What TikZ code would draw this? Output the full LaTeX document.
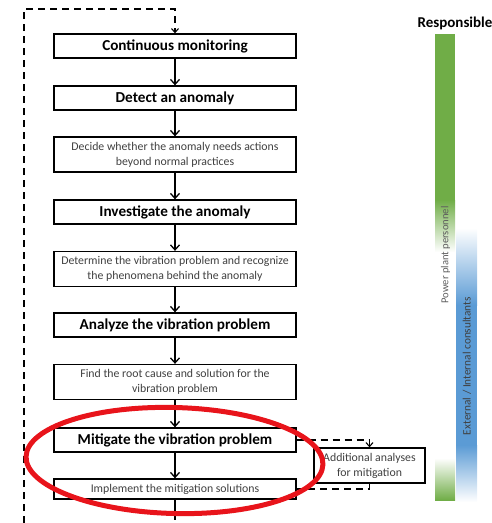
\documentclass[tikz,border=0pt]{standalone}
\usepackage{fontspec}
\setmainfont{Carlito}
\usetikzlibrary{arrows.meta,calc}
\definecolor{plantgreen}{HTML}{70AD47}
\definecolor{consultblue}{HTML}{5B9BD5}
\definecolor{textgray}{HTML}{404040}
\definecolor{markred}{HTML}{E8141B}
\tikzset{
  stepbox/.style={draw=black, line width=1.3pt, fill=white, minimum width=242pt,
    inner sep=1pt, align=center},
  mainstep/.style={stepbox, minimum height=24pt, font=\bfseries\fontsize{15.2}{17}\selectfont},
  substep/.style={stepbox, minimum height=35pt, text=textgray, font=\fontsize{11.8}{15}\selectfont},
  flow/.style={line width=1.3pt, -{Straight Barb[length=5pt,width=9pt,line width=1.3pt]}},
  loopline/.style={line width=1.3pt, dash pattern=on 7pt off 5pt},
  looparrow/.style={loopline, -{Straight Barb[length=4pt,width=7pt,line width=1.1pt]}},
  barlabel/.style={rotate=90}
}
\begin{document}
\begin{tikzpicture}[x=1pt,y=-1pt]
\useasboundingbox (0,0) rectangle (492,523);

% responsibility bars
\fill[plantgreen] (435,34) rectangle (455,200);
\shade[top color=plantgreen, bottom color=white] (435,200) rectangle (455,252);
\shade[top color=white, bottom color=plantgreen] (435,458) rectangle (455,500);
\shade[top color=white, bottom color=consultblue] (456,228) rectangle (477,305);
\fill[consultblue] (456,305) rectangle (477,445);
\shade[top color=consultblue, bottom color=white] (456,445) rectangle (477,502);

\node[font=\bfseries\fontsize{15}{17}\selectfont] (resp) at (455,23) {Responsible};
\node[barlabel, text=textgray!85, font=\fontsize{10.6}{12}\selectfont] (plant) at (445.5,255) {Power plant personnel};
\node[barlabel, text=textgray, font=\fontsize{11.3}{13}\selectfont] (consult) at (467,366) {External / Internal consultants};

% process steps
\node[mainstep] (s1) at (175,46) {Continuous monitoring};
\node[mainstep] (s2) at (175,98) {Detect an anomaly};
\node[substep]  (s3) at (175,154.5) {Decide whether the anomaly needs actions\\beyond normal practices};
\node[mainstep] (s4) at (175,212) {Investigate the anomaly};
\node[substep]  (s5) at (175,269) {Determine the vibration problem and recognize\\the phenomena behind the anomaly};
\node[mainstep] (s6) at (175,325) {Analyze the vibration problem};
\node[substep]  (s7) at (175,382) {Find the root cause and solution for the\\vibration problem};
\node[mainstep] (s8) at (175,440) {Mitigate the vibration problem};
\node[substep, minimum height=20pt] (s9) at (175,489) {Implement the mitigation solutions};
\node[substep, minimum width=111pt] (extra) at (369.5,465.5) {Additional analyses\\for mitigation};

% main flow
\foreach \a/\b in {s1/s2, s2/s3, s3/s4, s4/s5, s5/s6, s6/s7, s7/s8, s8/s9}
  \draw[flow] (\a) -- (\b);
\coordinate (tail) at (175,520);
\draw[line width=1.3pt] (s9) -- (tail);

% feedback loop back to monitoring
\coordinate (loopbottom) at (24,523);
\coordinate (looptop) at (24,9);
\draw[looparrow] (loopbottom) -- (looptop) -| (s1.north);

% side loop for additional analyses
\draw[looparrow] (s8.east) -- (s8.east -| extra.north) -- (extra.north);
\draw[loopline] (extra.south) -- (extra.south |- s9.east) -- (s9.east);

% highlight
\draw[markred, line width=5pt, rotate around={-1.5:(174.5,460.5)}] (174.5,460.5) ellipse [x radius=148.5, y radius=53];
\end{tikzpicture}
\end{document}
